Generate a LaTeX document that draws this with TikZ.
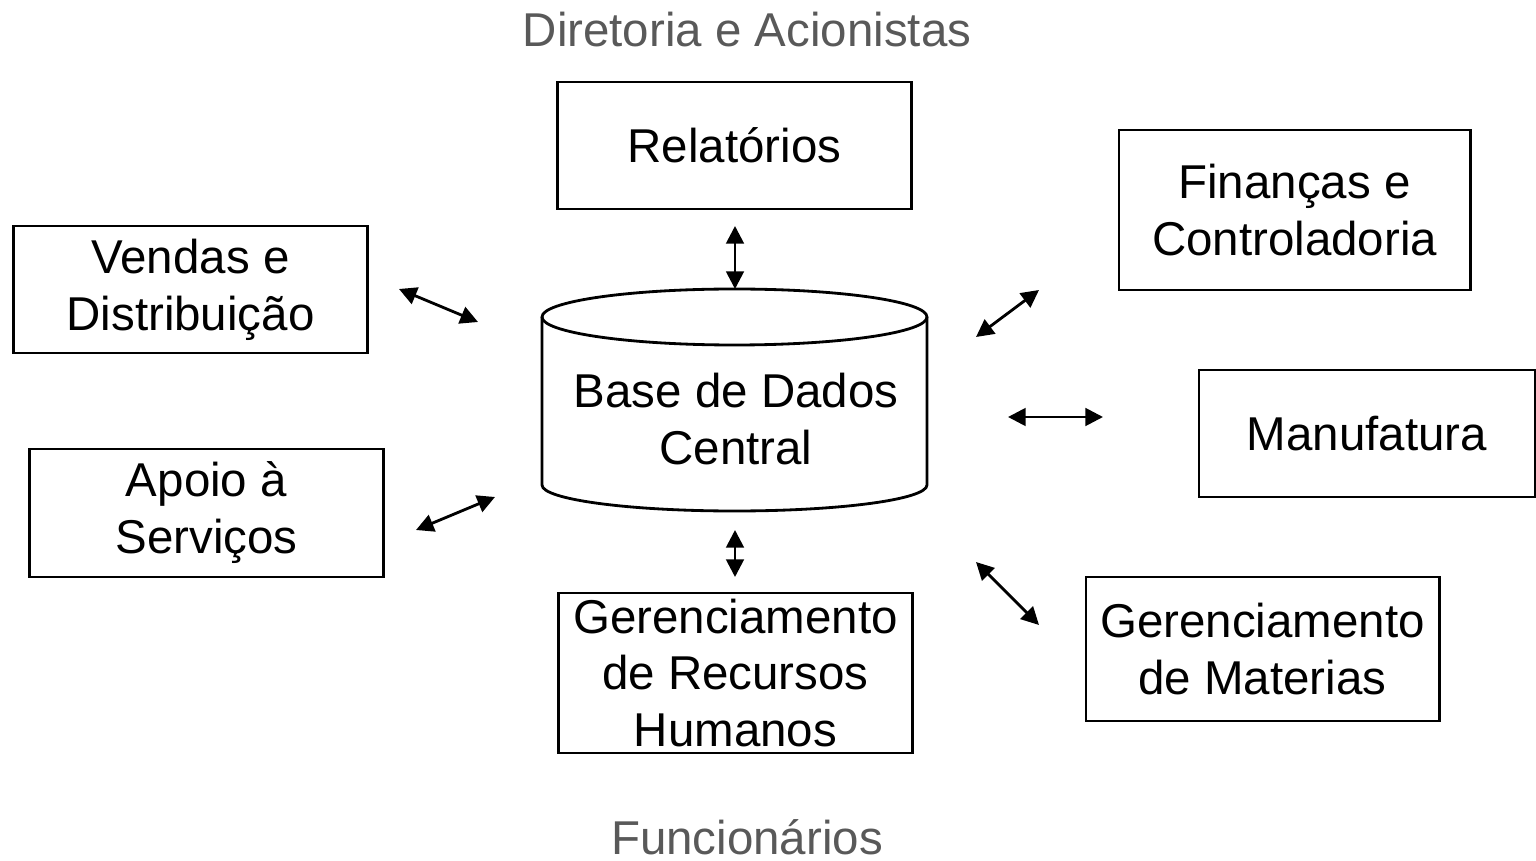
\documentclass[tikz,border=0pt]{standalone}
\usepackage{fontspec}
\setmainfont{Liberation Sans}
\usepackage{tikz}
\usetikzlibrary{positioning}
\usetikzlibrary{arrows.meta}
\definecolor{labelgray}{rgb}{0.35, 0.35, 0.35}
\tikzset{
    modulebox/.style={draw, line width=0.8pt, inner sep=0pt, align=center, font=\fontsize{13.5}{16.2}\selectfont},
    outsider/.style={text=labelgray, font=\fontsize{13.5}{16.2}\selectfont},
    twoway/.style={{Triangle[length=5pt,width=5pt]}-{Triangle[length=5pt,width=5pt]}, line width=0.8pt}
}
\newcommand{\exchange}[3]{ % Takes a name, first end point and second end point as arguments
    \coordinate (#1a) at #2;
    \coordinate (#1b) at #3;
    \draw[twoway] (#1a) -- (#1b);
}

\begin{document}
\begin{tikzpicture}[x=0.01cm, y=-0.01cm]
                \useasboundingbox (0,0) rectangle (1536,861);

                % Outside the company
                \node[outsider] (board) at (747,30) {Diretoria e Acionistas};
                \node[outsider] (staff) at (747,837) {Funcionários};

                % Central database
                \draw[line width=0.8pt] (734.5,317) ellipse [x radius=192.5, y radius=28];
                \draw[line width=0.8pt] (542,317) -- (542,485) arc [start angle=180, end angle=0, x radius=192.5, y radius=26] -- (927,317);
                \node[align=center, font=\fontsize{13.5}{16.2}\selectfont] (db) at (736,419) {Base de Dados\\Central};

                % Modules
                \node[modulebox, minimum width=3.53cm, minimum height=1.27cm] (rel) at (734.5,145.5) {Relatórios};
                \node[modulebox, minimum width=3.51cm, minimum height=1.60cm] (fin) at (1294.5,210) {Finanças e\\Controladoria};
                \node[modulebox, minimum width=3.53cm, minimum height=1.27cm] (sales) at (190.5,289.5) {Vendas e\\Distribuição};
                \node[modulebox, minimum width=3.36cm, minimum height=1.27cm] (manuf) at (1367,433.5) {Manufatura};
                \node[modulebox, minimum width=3.53cm, minimum height=1.28cm] (support) at (206.5,513) {Apoio à\\Serviços};
                \node[modulebox, minimum width=3.53cm, minimum height=1.60cm] (hr) at (735.5,673) {Gerenciamento\\de Recursos\\Humanos};
                \node[modulebox, minimum width=3.53cm, minimum height=1.44cm] (mat) at (1262.5,649) {Gerenciamento\\de Materias};

                % Links to the database
                \exchange{rel}{(735,226)}{(735,289)}
                \exchange{sales}{(399,289)}{(478,322)}
                \exchange{fin}{(976,337)}{(1039,290)}
                \exchange{manuf}{(1008,417)}{(1103,417)}
                \exchange{support}{(416,530)}{(495,497)}
                \exchange{hr}{(735,530)}{(735,577)}
                \exchange{mat}{(976,562)}{(1039,625)}
\end{tikzpicture}
\end{document}
